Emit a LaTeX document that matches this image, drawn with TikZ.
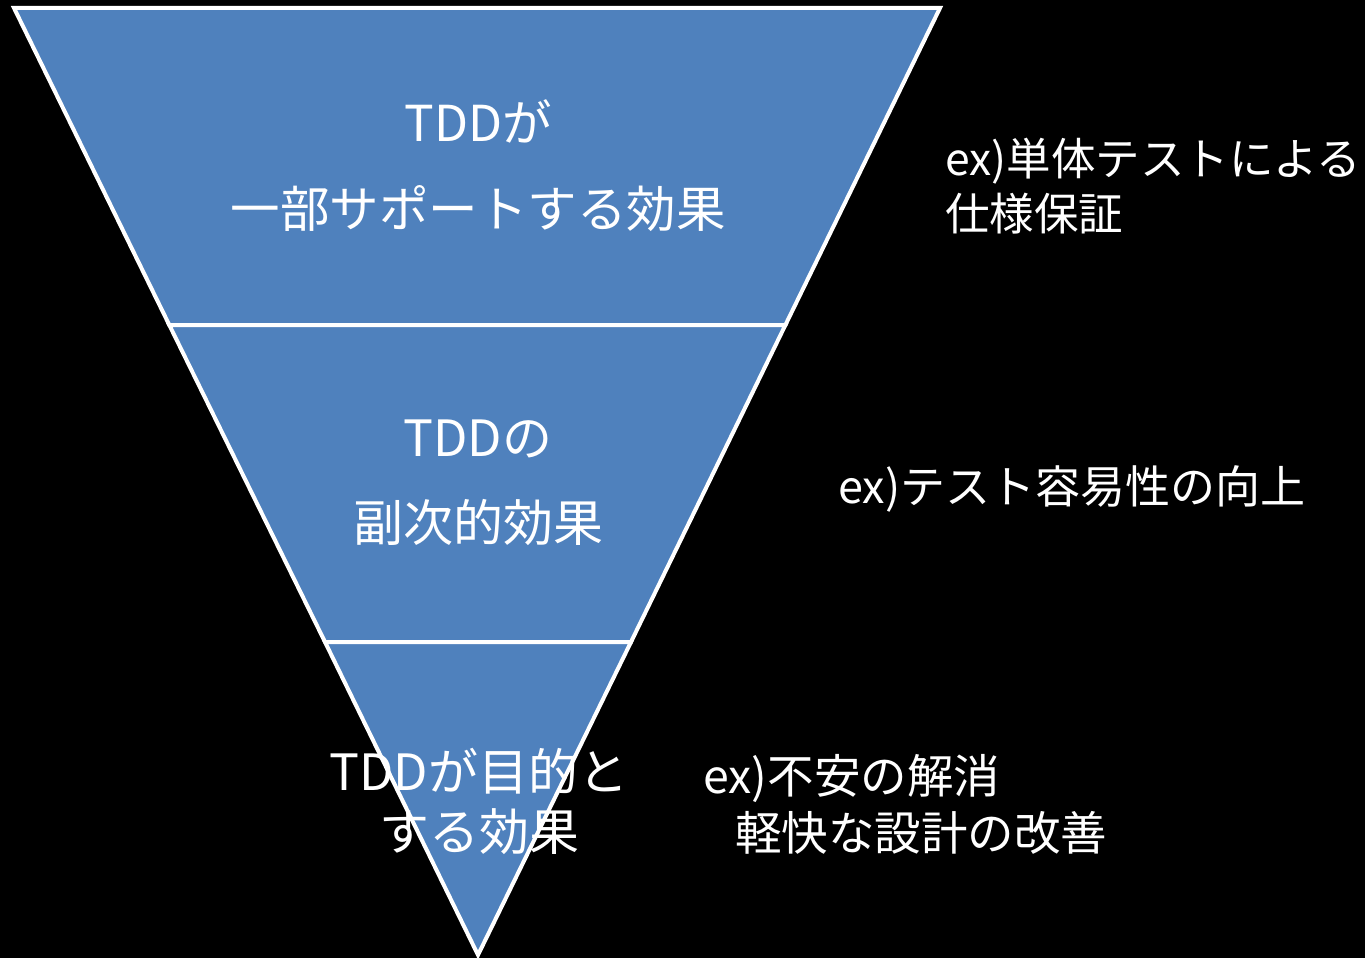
\documentclass[tikz,border=0pt]{standalone}
\usepackage{fontspec}
\setmainfont{Noto Sans CJK JP}
\definecolor{secblue}{RGB}{79,129,189}
\begin{document}
\begin{tikzpicture}[x=1pt,y=-1pt,
  section/.style={fill=secblue,draw=white,line width=4pt,line join=miter},
  intext/.style={text=white,align=center,inner sep=0pt},
  extext/.style={text=white,align=left,inner sep=0pt,anchor=west},
]
\fill[black] (0,0) rectangle (1365,958);
\useasboundingbox (0,0) rectangle (1365,958);
\coordinate (tl) at (14,8);
\coordinate (tr) at (940,8);
\coordinate (ml) at (169.3,325);
\coordinate (mr) at (785.4,325);
\coordinate (bl) at (325,642);
\coordinate (br) at (631,642);
\coordinate (apex) at (478,955);
\draw[section] (tl) -- (tr) -- (mr) -- (ml) -- cycle;
\draw[section] (ml) -- (mr) -- (br) -- (bl) -- cycle;
\draw[section] (bl) -- (br) -- (apex) -- cycle;
\node[intext,font=\fontsize{49.5}{86}\selectfont] (top) at (478,166) {TDDが\\一部サポートする効果};
\node[intext,font=\fontsize{50}{85}\selectfont] (mid) at (478,483) {TDDの\\副次的効果};
\node[intext,font=\fontsize{50}{60}\selectfont] (bot) at (479,801) {TDDが目的と\\する効果};
\node[extext,font=\fontsize{44.5}{55}\selectfont] (ex1) at (945,186) {ex)単体テストによる\\仕様保証};
\node[extext,font=\fontsize{45}{55}\selectfont] (ex2) at (838,489) {ex)テスト容易性の向上};
\node[extext,font=\fontsize{46.5}{57}\selectfont] (ex3) at (703,804) {ex)不安の解消\\\hspace*{32pt}軽快な設計の改善};
\end{tikzpicture}
\end{document}
